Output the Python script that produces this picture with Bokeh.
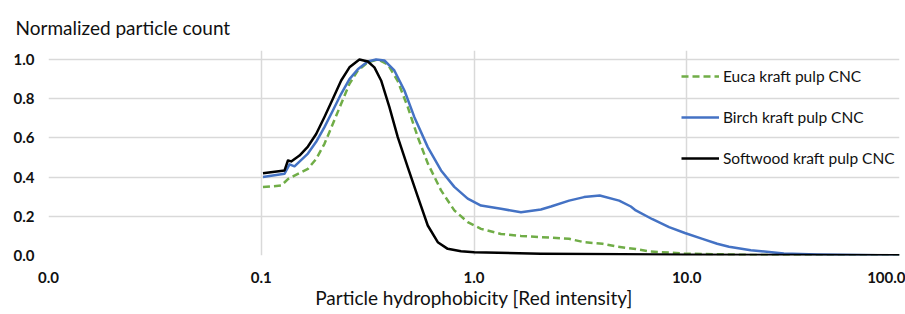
from bokeh.plotting import figure
from bokeh.models import FixedTicker, Legend, LegendItem, Range1d
from bokeh.embed import file_html
from bokeh.resources import INLINE

# ---- data ----
softwood_x = [0.1019, 0.1287, 0.1335, 0.1383, 0.1513, 0.1657, 0.1812, 0.1982, 0.2171, 0.2375,
              0.2598, 0.2894, 0.3169, 0.3403, 0.3659, 0.4003, 0.4382, 0.4885, 0.5441, 0.6063,
              0.6756, 0.7524, 0.8689, 1.003, 2.063, 5.0, 10.0, 30.0, 100.0]
softwood_y = [0.42, 0.434, 0.485, 0.48, 0.51, 0.556, 0.62, 0.707, 0.80, 0.893,
              0.96, 1.0, 0.99, 0.96, 0.893, 0.757, 0.604, 0.45, 0.30, 0.153,
              0.068, 0.034, 0.022, 0.017, 0.009, 0.006, 0.004, 0.002, 0.001]

birch_x = [0.1019, 0.1287, 0.1358, 0.1433, 0.1657, 0.1812, 0.1982, 0.2171, 0.2375, 0.2598,
           0.2844, 0.3169, 0.3467, 0.3791, 0.4223, 0.4709, 0.5245, 0.6063, 0.7001, 0.8082,
           0.9342, 1.0786, 1.339, 1.6623, 2.063, 2.30, 2.80, 3.29, 3.90, 4.81,
           5.46, 5.76, 6.90, 8.26, 9.80, 11.85, 13.9, 15.8, 20.0, 28.6,
           41.1, 100.0]
birch_y = [0.40, 0.417, 0.465, 0.455, 0.52, 0.58, 0.655, 0.74, 0.825, 0.90,
           0.95, 0.99, 1.0, 0.995, 0.944, 0.842, 0.706, 0.553, 0.434, 0.35,
           0.29, 0.255, 0.238, 0.221, 0.235, 0.25, 0.28, 0.298, 0.306, 0.28,
           0.25, 0.23, 0.185, 0.145, 0.115, 0.085, 0.06, 0.045, 0.027, 0.01,
           0.005, 0.0]

euca_x = [0.1019, 0.1242, 0.1335, 0.1433, 0.1657, 0.1812, 0.1982, 0.2171, 0.2375, 0.2598,
          0.2844, 0.3169, 0.3530, 0.3933, 0.4382, 0.4885, 0.5441, 0.6063, 0.7001, 0.8082,
          0.9342, 1.0786, 1.339, 1.6623, 2.063, 2.80, 3.29, 4.02, 4.73, 5.76,
          6.78, 8.26, 9.71, 11.85, 20.0, 100.0]
euca_y = [0.349, 0.357, 0.39, 0.408, 0.442, 0.493, 0.57, 0.672, 0.774, 0.876,
          0.944, 0.986, 1.0, 0.975, 0.89, 0.757, 0.604, 0.47, 0.332, 0.23,
          0.17, 0.136, 0.11, 0.10, 0.094, 0.085, 0.068, 0.06, 0.045, 0.033,
          0.02, 0.015, 0.01, 0.008, 0.003, 0.0]

series_labels = ["Euca kraft pulp CNC", "Birch kraft pulp CNC", "Softwood kraft pulp CNC"]
chart_title = "Normalized particle count"

x_ticks = [0.01, 0.1, 1.0, 10.0, 100.0]
x_tick_labels = ["0.0", "0.1", "1.0", "10.0", "100.0"]
y_ticks = [0.0, 0.2, 0.4, 0.6, 0.8, 1.0]
y_tick_labels = ["0.0", "0.2", "0.4", "0.6", "0.8", "1.0"]

FONT = "Lato"

p = figure(width=905, height=314, x_axis_type="log",
           x_range=Range1d(0.01, 100), y_range=Range1d(0, 1.046),
           output_backend="svg", toolbar_location=None,
           min_border_left=48, min_border_right=6,
           min_border_top=50, min_border_bottom=59,
           title=chart_title)

p.outline_line_color = None
p.background_fill_color = "white"
p.border_fill_color = "white"

p.title.text_font = FONT
p.title.text_font_size = "19px"
p.title.text_font_style = "normal"
p.title.text_color = "#111111"
p.title.align = "left"
p.title.offset = -33
p.title.standoff = 24

for ax in (p.xaxis[0], p.yaxis[0]):
    ax.axis_line_color = None
    ax.major_tick_line_color = None
    ax.minor_tick_line_color = None
    ax.major_tick_out = 0
    ax.major_tick_in = 0
    ax.minor_tick_out = 0
    ax.major_label_text_font = FONT
    ax.major_label_text_font_size = "15px"
    ax.major_label_text_font_style = "bold"
    ax.major_label_text_color = "#111111"

p.xaxis.ticker = FixedTicker(ticks=x_ticks)
p.xaxis.major_label_overrides = {t: l for t, l in zip(x_ticks, x_tick_labels)}
p.xaxis.major_label_standoff = 16
p.xaxis.axis_label = "Particle hydrophobicity [Red intensity]"
p.xaxis.axis_label_text_font = FONT
p.xaxis.axis_label_text_font_size = "19px"
p.xaxis.axis_label_text_font_style = "normal"
p.xaxis.axis_label_text_color = "#111111"
p.xaxis.axis_label_standoff = 0

p.yaxis.ticker = FixedTicker(ticks=y_ticks)
p.yaxis.major_label_overrides = {t: l for t, l in zip(y_ticks, y_tick_labels)}
p.yaxis.major_label_standoff = 14

p.xgrid.ticker = FixedTicker(ticks=x_ticks)
p.ygrid.ticker = FixedTicker(ticks=y_ticks)
for g in (p.xgrid[0], p.ygrid[0]):
    g.grid_line_color = "#d9d9d9"
    g.grid_line_width = 1.5

r_euca = p.line(euca_x, euca_y, line_color="#70ad47", line_width=2.5,
                line_dash="7 4", line_join="round")
r_birch = p.line(birch_x, birch_y, line_color="#4472c4", line_width=2.5,
                 line_join="round")
r_soft = p.line(softwood_x, softwood_y, line_color="#000000", line_width=2.5,
                line_join="round")

legend = Legend(items=[LegendItem(label=series_labels[0], renderers=[r_euca]),
                       LegendItem(label=series_labels[1], renderers=[r_birch]),
                       LegendItem(label=series_labels[2], renderers=[r_soft])],
                location=(633, 87))
legend.background_fill_alpha = 0
legend.border_line_alpha = 0
legend.padding = 0
legend.margin = 0
legend.spacing = 21
legend.glyph_width = 38
legend.glyph_height = 20
legend.label_height = 20
legend.label_standoff = 4
legend.label_text_font = FONT
legend.label_text_font_size = "15.5px"
legend.label_text_color = "#111111"
p.add_layout(legend)

open("out.html", "w").write(file_html(p, INLINE))
